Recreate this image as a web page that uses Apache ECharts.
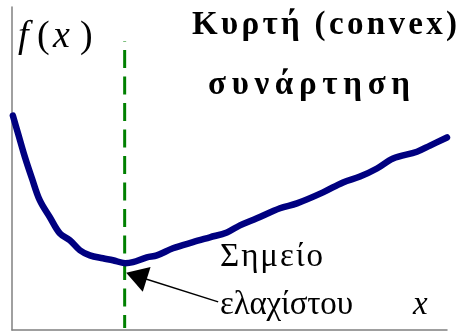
<!DOCTYPE html>
<html>
<head>
<meta charset="utf-8">
<script src="https://cdn.jsdelivr.net/npm/echarts@6/dist/echarts.min.js"></script>
<style>
  html, body { margin: 0; padding: 0; background: #fff; }
  #main { width: 459px; height: 333px; }
</style>
</head>
<body>
<div id="main"></div>
<script>
// curve (x 0..10, y 0..10)
var curveX = [0.02, 0.14, 0.30, 0.46, 0.64, 0.87, 1.10, 1.33, 1.56, 1.79, 2.09, 2.32, 2.60, 2.78, 3.10, 3.33, 3.70, 4.16, 4.55, 4.94, 5.24, 5.63, 6.16, 6.55, 7.15, 7.61, 8.00, 8.39, 8.76, 9.31, 9.61, 10.0];
var curveY = [6.64, 6.08, 5.34, 4.69, 4.01, 3.49, 2.99, 2.78, 2.47, 2.31, 2.22, 2.16, 2.07, 2.10, 2.25, 2.31, 2.53, 2.72, 2.87, 3.02, 3.24, 3.46, 3.77, 3.92, 4.26, 4.57, 4.75, 5.00, 5.31, 5.52, 5.71, 5.96];

// vertical line at the minimum
var minX = 2.59;
var minLineY = [8.95, 0.06];

// arrow from the label to the minimum
var arrowFrom = [4.74, 0.87];
var arrowTo = [2.86, 1.67];

var serif = 'Liberation Serif';
var mctx = document.createElement('canvas').getContext('2d');
function measure(t, f) {
  mctx.font = (f.fontStyle || 'normal') + ' ' + (f.fontWeight || 'normal') + ' ' + f.fontSize + 'px "' + serif + '"';
  return mctx.measureText(t).width;
}

function txt(t, x, y, f) {
  return {
    type: 'text',
    silent: true,
    style: {
      text: t, x: x, y: y, fill: '#000',
      fontFamily: serif,
      fontSize: f.fontSize,
      fontWeight: f.fontWeight || 'normal',
      fontStyle: f.fontStyle || 'normal'
    }
  };
}

// spread the letters of a string between x0 and x1
function spreadText(str, x0, x1, y, f) {
  var chars = str.split('');
  var total = 0;
  chars.forEach(function (c) { total += measure(c, f); });
  var gap = chars.length > 1 ? (x1 - x0 - total) / (chars.length - 1) : 0;
  var cx = x0;
  var els = [];
  chars.forEach(function (c) {
    els.push(txt(c, cx, y, f));
    cx += measure(c, f) + gap;
  });
  return els;
}

var graphics = []
  .concat(spreadText('Κυρτή (convex)', 192, 457, 9, { fontSize: 33, fontWeight: 'bold' }))
  .concat(spreadText('συνάρτηση', 208, 410, 69, { fontSize: 33, fontWeight: 'bold' }))
  .concat(spreadText('Σημείο', 220, 323, 241, { fontSize: 33 }))
  .concat(spreadText('ελαχίστου', 220, 353, 289, { fontSize: 33 }))
  .concat([
    txt('x', 413, 289, { fontSize: 33, fontStyle: 'italic' }),
    txt('f', 18, 18, { fontSize: 38, fontStyle: 'italic' }),
    txt('(', 37, 18, { fontSize: 38 }),
    txt('x', 53, 18, { fontSize: 38, fontStyle: 'italic' }),
    txt(')', 80, 18, { fontSize: 38 })
  ]);

var myChart = echarts.init(document.getElementById('main'), null, { renderer: 'canvas' });

var option = {
  animation: false,
  backgroundColor: '#fff',
  grid: { left: 12, right: 12, top: 7, bottom: 3 },
  xAxis: {
    type: 'value', min: 0, max: 10,
    axisLine: { show: true, lineStyle: { color: '#808080', width: 1.5 } },
    axisTick: { show: false }, axisLabel: { show: false }, splitLine: { show: false }
  },
  yAxis: {
    type: 'value', min: 0, max: 10,
    axisLine: { show: true, lineStyle: { color: '#808080', width: 1.5 } },
    axisTick: { show: false }, axisLabel: { show: false }, splitLine: { show: false }
  },
  graphic: graphics,
  series: [
    {
      type: 'line',
      silent: true,
      data: minLineY.map(function (y) { return [minX, y]; }),
      showSymbol: false,
      lineStyle: { color: '#008000', width: 3, type: [18, 8.5], dashOffset: 17.5 },
      z: 1
    },
    {
      type: 'line',
      silent: true,
      data: curveX.map(function (x, i) { return [x, curveY[i]]; }),
      smooth: 0.35,
      showSymbol: false,
      lineStyle: { color: '#000080', width: 6.5, cap: 'round', join: 'round' },
      z: 2,
      markLine: {
        silent: true,
        symbol: ['none', 'triangle'],
        symbolSize: [26, 21.5],
        label: { show: false },
        lineStyle: { color: '#000', width: 1.5, type: 'solid' },
        itemStyle: { color: '#000' },
        data: [[{ coord: arrowFrom }, { coord: arrowTo }]]
      }
    }
  ]
};

myChart.setOption(option);
</script>
</body>
</html>
